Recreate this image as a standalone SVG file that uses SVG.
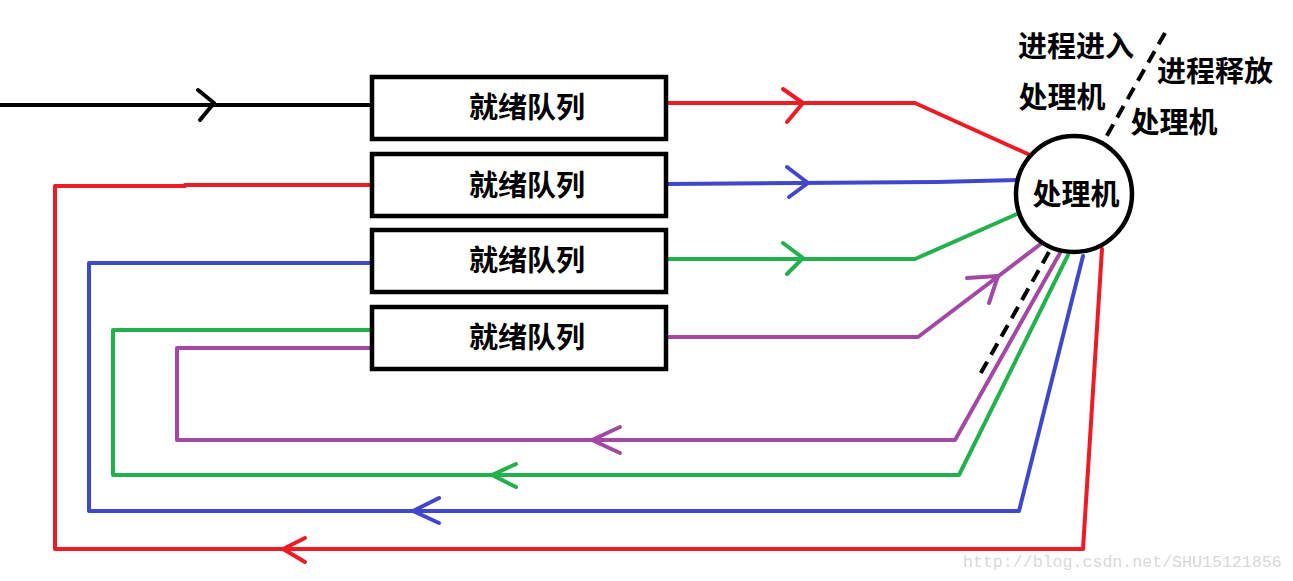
<svg xmlns="http://www.w3.org/2000/svg" width="1293" height="581" viewBox="0 0 1293 581">
<style>
.box{fill:#fff;stroke:#000;stroke-width:4.5}
.t{font-family:"Noto Sans CJK SC","Noto Sans",sans-serif;font-weight:bold;font-size:29px;fill:#000;text-anchor:middle}
.l{fill:none;stroke-width:4;stroke-linecap:round;stroke-linejoin:round}
.k{stroke:#000;stroke-width:4}
.r{stroke:#ED1C24}
.b{stroke:#3F48CC}
.g{stroke:#22B14C}
.p{stroke:#A349A4}
.d{fill:none;stroke:#000;stroke-width:4;stroke-dasharray:13 8}
.wm{font-family:"Liberation Mono",monospace;font-size:16.6px;fill:#d8d8d8}
</style>
<g id="connectors">
<path class="l k" d="M0,105 H370"/>
<path class="l k" d="M198,90 L214,103 L200,120"/>
<path class="l r" d="M666,103 H915 L1030,155"/>
<path class="l r" d="M783,89 L803,103 L787,122"/>
<path class="l b" d="M666,184 L937,182 L1018,180"/>
<path class="l b" d="M787,167 L808,183 L789,197"/>
<path class="l g" d="M666,259 H915 L1017,214"/>
<path class="l g" d="M783,243 L803,258 L787,274"/>
<path class="l p" d="M666,337 H918 L1042,243"/>
<path class="l p" d="M967,278 L998,276 L989,303"/>
<path class="l p" d="M1060,253 L955,440 H177 V348 H370"/>
<path class="l p" d="M620,427 L592,440 L620,453"/>
<path class="l g" d="M1068,255 L959,475 H113 V330 H370"/>
<path class="l g" d="M516,464 L492,475 L516,487"/>
<path class="l b" d="M1083,256 L1019,511 H89 V263 H370"/>
<path class="l b" d="M439,498 L413,511 L439,523"/>
<path class="l r" d="M1102,249 L1083,549 H55 V186 H185 V185 H370"/>
<path class="l r" d="M305,538 L283,549 L305,562"/>
<path class="d" d="M1165,33 L1101,146"/>
<path class="d" d="M1049,252 L978,378"/>
</g>
<g id="q1"><rect class="box" x="372" y="77" width="294" height="62"/><text class="t" x="527" y="118">就绪队列</text></g>
<g id="q2"><rect class="box" x="372" y="154" width="294" height="62"/><text class="t" x="527" y="196">就绪队列</text></g>
<g id="q3"><rect class="box" x="372" y="230" width="294" height="62"/><text class="t" x="527" y="271">就绪队列</text></g>
<g id="q4"><rect class="box" x="372" y="307" width="294" height="62"/><text class="t" x="527" y="348">就绪队列</text></g>
<g id="cpu"><circle cx="1074" cy="194" r="58" fill="#fff" stroke="#000" stroke-width="4.5"/><text class="t" x="1076" y="205">处理机</text></g>
<g id="labels">
<text class="t" x="1076" y="57">进程进入</text>
<text class="t" x="1062" y="108">处理机</text>
<text class="t" x="1215" y="82">进程释放</text>
<text class="t" x="1174" y="133">处理机</text>
</g>
<text class="wm" x="963" y="567">http://blog.csdn.net/SHU15121856</text>
</svg>
